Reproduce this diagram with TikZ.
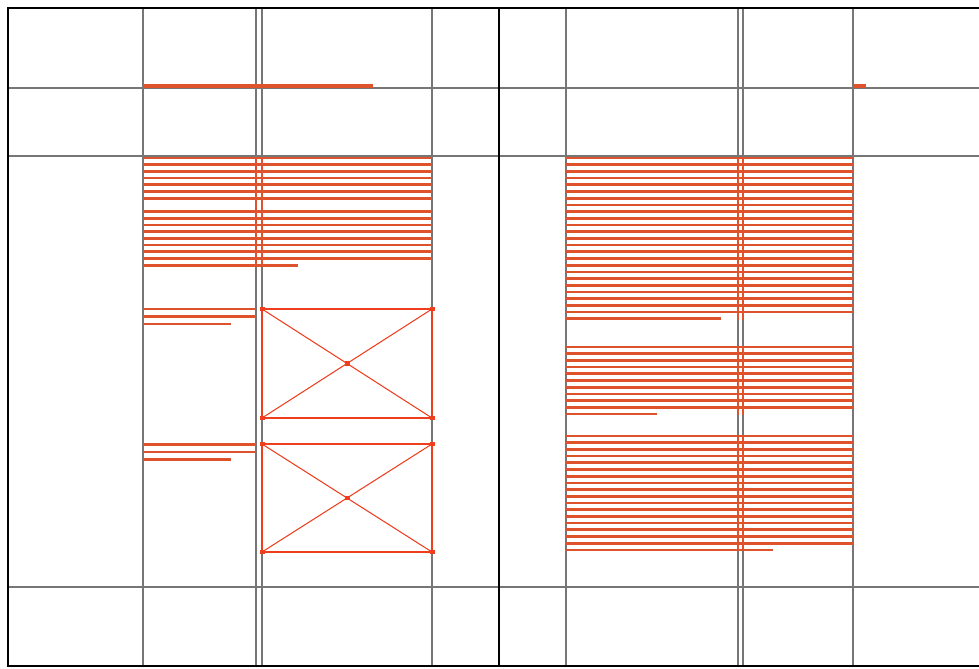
\documentclass[tikz,border=0pt]{standalone}
\definecolor{rulegray}{RGB}{118,118,118}
\definecolor{textred}{RGB}{222,82,44}
\definecolor{boxred}{RGB}{238,62,30}
\begin{document}
\begin{tikzpicture}[x=0.03cm,y=-0.03cm,
  grid/.style={rulegray,line width=1.5pt},
  frame/.style={black,line width=2pt},
  txt/.style={textred,line width=2.3pt},
  picbox/.style={boxred,line width=1.6pt},
  picdiag/.style={boxred,line width=0.9pt}]
\useasboundingbox (0,0) rectangle (979,668);
% grid of the spread
\foreach \x in {143,256,262,432,566,738,743,853} \draw[grid] (\x,8)--(\x,666);
\foreach \y in {88,156,587} \draw[grid] (8,\y)--(979,\y);
\draw[frame] (979,8)--(8,8)--(8,666)--(979,666);
\draw[frame] (499,8)--(499,666);
% running head and folio
\draw[txt,line width=2.8pt] (143,86)--(373,86);
\draw[txt,line width=2.8pt] (853,86)--(866,86);
% left page text
\foreach \k in {0,...,6,8,9,...,15} \draw[txt] (143,{158+6.7*\k})--(432,{158+6.7*\k});
\draw[txt] (143,265.2)--(298,265.2);
\draw[textred,line width=1.2pt] (256,157)--(256,266) (262,157)--(262,266);
% captions
\foreach \y in {309,316.5} \draw[txt] (143,\y)--(256,\y);
\draw[txt] (143,324)--(231,324);
\foreach \y in {444.5,452} \draw[txt] (143,\y)--(256,\y);
\draw[txt] (143,459.5)--(231,459.5);
% picture boxes
\foreach \t/\b in {309/418,444/552}{
  \draw[picbox] (262,\t) rectangle (432,\b);
  \draw[picdiag] (262,\t)--(432,\b) (262,\b)--(432,\t);
  \foreach \p in {(262,\t),(432,\t),(262,\b),(432,\b),(347,{(\t+\b)/2})}
    \fill[boxred] \p +(-2.5,-2.2) rectangle +(2.5,2.2);
}
% right page text
\foreach \k in {0,...,23} \draw[txt] (566,{158+6.7*\k})--(853,{158+6.7*\k});
\draw[txt] (566,318.8)--(721,318.8);
\foreach \k in {0,...,9} \draw[txt] (566,{347+6.7*\k})--(853,{347+6.7*\k});
\draw[txt] (566,414)--(657,414);
\foreach \k in {0,...,16} \draw[txt] (566,{436+6.7*\k})--(853,{436+6.7*\k});
\draw[txt] (566,549.9)--(773,549.9);
\foreach \t/\b in {157/320,346/415,435/551}
  \draw[textred,line width=1.2pt] (738,\t)--(738,\b) (743,\t)--(743,\b);
\end{tikzpicture}
\end{document}
